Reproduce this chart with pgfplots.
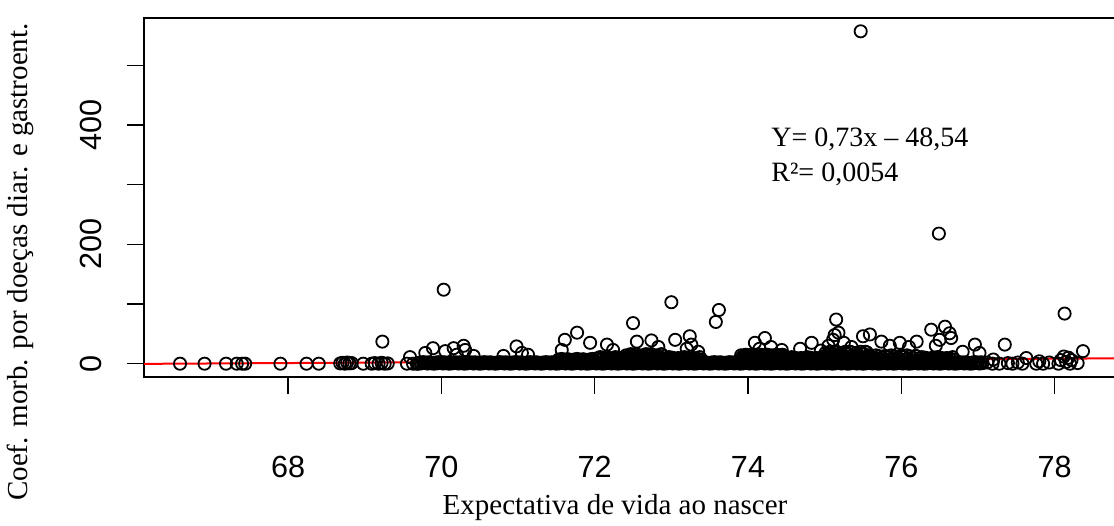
\documentclass[border=0pt]{standalone}
\usepackage{fontspec}
\setmainfont{Liberation Serif}
\newfontfamily\arialfont{Liberation Sans}
\usepackage{pgfplots}
\usepackage{pgfplotstable}
\pgfplotsset{compat=1.18}
\pgfplotstableread[row sep=\\]{
x y\\
69.70 0\\69.72 1.8\\69.74 0.6\\69.76 2.6\\69.78 1.2\\
69.80 2\\69.82 0.3\\69.84 2.4\\69.86 0.9\\69.88 1.5\\
69.90 0\\69.92 1.8\\69.94 0.6\\69.96 2.6\\69.98 1.2\\
70.00 2\\70.02 0.3\\70.04 2.4\\70.06 0.9\\70.08 1.5\\
70.10 0\\70.12 1.8\\70.14 0.6\\70.16 2.6\\70.18 1.2\\
70.20 2\\70.22 0.3\\70.24 2.4\\70.26 0.9\\70.28 1.5\\
70.30 0\\70.32 1.8\\70.34 0.6\\70.36 2.6\\70.38 1.2\\
70.40 2\\70.42 0.3\\70.44 2.4\\70.46 0.9\\70.48 1.5\\
70.50 0\\70.52 1.8\\70.54 0.6\\70.56 2.6\\70.58 1.2\\
70.60 2\\70.62 0.3\\70.64 2.4\\70.66 0.9\\70.68 1.5\\
70.70 0\\70.72 1.8\\70.74 0.6\\70.76 2.6\\70.78 1.2\\
70.80 2\\70.82 0.3\\70.84 2.4\\70.86 0.9\\70.88 1.5\\
70.90 0\\70.92 1.8\\70.94 0.6\\70.96 2.6\\70.98 1.2\\
71.00 2\\71.02 0.3\\71.04 2.4\\71.06 0.9\\71.08 1.5\\
71.10 0\\71.12 1.8\\71.14 0.6\\71.16 2.6\\71.18 1.2\\
71.20 2\\71.22 0.3\\71.24 2.4\\71.26 0.9\\71.28 1.5\\
71.30 0\\71.32 1.8\\71.34 0.6\\71.36 2.6\\71.38 1.2\\
71.40 2\\71.42 0.3\\71.44 2.4\\71.46 0.9\\71.48 1.5\\
71.50 0\\71.52 1.8\\71.54 0.6\\71.56 2.6\\71.58 1.2\\
71.60 2\\71.62 0.3\\71.64 2.4\\71.66 0.9\\71.68 1.5\\
71.70 0\\71.72 1.8\\71.74 0.6\\71.76 2.6\\71.78 1.2\\
71.80 2\\71.82 0.3\\71.84 2.4\\71.86 0.9\\71.88 1.5\\
71.90 0\\71.92 1.8\\71.94 0.6\\71.96 2.6\\71.98 1.2\\
72.00 2\\72.02 0.3\\72.04 2.4\\72.06 0.9\\72.08 1.5\\
72.10 0\\72.12 1.8\\72.14 0.6\\72.16 2.6\\72.18 1.2\\
72.20 2\\72.22 0.3\\72.24 2.4\\72.26 0.9\\72.28 1.5\\
72.30 0\\72.32 1.8\\72.34 0.6\\72.36 2.6\\72.38 1.2\\
72.40 2\\72.42 0.3\\72.44 2.4\\72.46 0.9\\72.48 1.5\\
72.50 0\\72.52 1.8\\72.54 0.6\\72.56 2.6\\72.58 1.2\\
72.60 2\\72.62 0.3\\72.64 2.4\\72.66 0.9\\72.68 1.5\\
72.70 0\\72.72 1.8\\72.74 0.6\\72.76 2.6\\72.78 1.2\\
72.80 2\\72.82 0.3\\72.84 2.4\\72.86 0.9\\72.88 1.5\\
72.90 0\\72.92 1.8\\72.94 0.6\\72.96 2.6\\72.98 1.2\\
73.00 2\\73.02 0.3\\73.04 2.4\\73.06 0.9\\73.08 1.5\\
73.10 0\\73.12 1.8\\73.14 0.6\\73.16 2.6\\73.18 1.2\\
73.20 2\\73.22 0.3\\73.24 2.4\\73.26 0.9\\73.28 1.5\\
73.30 0\\73.32 1.8\\73.34 0.6\\73.36 2.6\\73.38 1.2\\
73.40 2\\73.42 0.3\\73.44 2.4\\73.46 0.9\\73.48 1.5\\
73.50 0\\73.52 1.8\\73.54 0.6\\73.56 2.6\\73.58 1.2\\
73.60 2\\73.62 0.3\\73.64 2.4\\73.66 0.9\\73.68 1.5\\
73.70 0\\73.72 1.8\\73.74 0.6\\73.76 2.6\\73.78 1.2\\
73.80 2\\73.82 0.3\\73.84 2.4\\73.86 0.9\\73.88 1.5\\
73.90 0\\73.92 1.8\\73.94 0.6\\73.96 2.6\\73.98 1.2\\
74.00 2\\74.02 0.3\\74.04 2.4\\74.06 0.9\\74.08 1.5\\
74.10 0\\74.12 1.8\\74.14 0.6\\74.16 2.6\\74.18 1.2\\
74.20 2\\74.22 0.3\\74.24 2.4\\74.26 0.9\\74.28 1.5\\
74.30 0\\74.32 1.8\\74.34 0.6\\74.36 2.6\\74.38 1.2\\
74.40 2\\74.42 0.3\\74.44 2.4\\74.46 0.9\\74.48 1.5\\
74.50 0\\74.52 1.8\\74.54 0.6\\74.56 2.6\\74.58 1.2\\
74.60 2\\74.62 0.3\\74.64 2.4\\74.66 0.9\\74.68 1.5\\
74.70 0\\74.72 1.8\\74.74 0.6\\74.76 2.6\\74.78 1.2\\
74.80 2\\74.82 0.3\\74.84 2.4\\74.86 0.9\\74.88 1.5\\
74.90 0\\74.92 1.8\\74.94 0.6\\74.96 2.6\\74.98 1.2\\
75.00 2\\75.02 0.3\\75.04 2.4\\75.06 0.9\\75.08 1.5\\
75.10 0\\75.12 1.8\\75.14 0.6\\75.16 2.6\\75.18 1.2\\
75.20 2\\75.22 0.3\\75.24 2.4\\75.26 0.9\\75.28 1.5\\
75.30 0\\75.32 1.8\\75.34 0.6\\75.36 2.6\\75.38 1.2\\
75.40 2\\75.42 0.3\\75.44 2.4\\75.46 0.9\\75.48 1.5\\
75.50 0\\75.52 1.8\\75.54 0.6\\75.56 2.6\\75.58 1.2\\
75.60 2\\75.62 0.3\\75.64 2.4\\75.66 0.9\\75.68 1.5\\
75.70 0\\75.72 1.8\\75.74 0.6\\75.76 2.6\\75.78 1.2\\
75.80 2\\75.82 0.3\\75.84 2.4\\75.86 0.9\\75.88 1.5\\
75.90 0\\75.92 1.8\\75.94 0.6\\75.96 2.6\\75.98 1.2\\
76.00 2\\76.02 0.3\\76.04 2.4\\76.06 0.9\\76.08 1.5\\
76.10 0\\76.12 1.8\\76.14 0.6\\76.16 2.6\\76.18 1.2\\
76.20 2\\76.22 0.3\\76.24 2.4\\76.26 0.9\\76.28 1.5\\
76.30 0\\76.32 1.8\\76.34 0.6\\76.36 2.6\\76.38 1.2\\
76.40 2\\76.42 0.3\\76.44 2.4\\76.46 0.9\\76.48 1.5\\
76.50 0\\76.52 1.8\\76.54 0.6\\76.56 2.6\\76.58 1.2\\
76.60 2\\76.62 0.3\\76.64 2.4\\76.66 0.9\\76.68 1.5\\
76.70 0\\76.72 1.8\\76.74 0.6\\76.76 2.6\\76.78 1.2\\
76.80 2\\76.82 0.3\\76.84 2.4\\76.86 0.9\\76.88 1.5\\
76.90 0\\76.92 1.8\\76.94 0.6\\76.96 2.6\\76.98 1.2\\
77.00 2\\77.02 0.3\\77.04 2.4\\77.06 0.9\\
}\band
\pgfplotstableread[row sep=\\]{
x y\\
71.51 4\\71.53 7\\71.55 5.5\\71.57 8\\71.59 4.5\\
71.61 6.5\\71.63 3.5\\71.65 7.5\\71.67 5\\71.69 6\\
71.71 4\\71.73 7\\71.75 5.5\\71.77 8\\71.79 4.5\\
71.81 6.5\\71.83 3.5\\71.85 7.5\\71.87 5\\71.89 6\\
71.91 4\\71.93 7\\71.95 5.5\\71.97 8\\71.99 4.5\\
72.01 4\\72.03 9\\72.05 6\\72.07 11\\72.09 7\\
72.11 10\\72.13 5\\72.15 8\\72.17 3.5\\72.19 9.5\\
72.21 4\\72.23 9\\72.25 6\\72.27 11\\72.29 7\\
72.31 10\\72.33 5\\72.35 8\\72.37 3.5\\72.39 9.5\\
72.41 4\\72.43 12\\72.45 8\\72.47 16\\72.49 6\\72.41 14\\72.43 10\\72.45 5\\72.47 15\\72.49 9\\
72.51 13\\72.53 7\\72.55 15\\72.57 11\\72.59 4.5\\72.51 8.5\\72.53 16\\72.55 6.5\\72.57 12.5\\72.59 10.5\\
72.61 4\\72.63 12\\72.65 8\\72.67 16\\72.69 6\\72.61 14\\72.63 10\\72.65 5\\72.67 15\\72.69 9\\
72.71 13\\72.73 7\\72.75 15\\72.77 11\\72.79 4.5\\72.71 8.5\\72.73 16\\72.75 6.5\\72.77 12.5\\72.79 10.5\\
72.81 4\\72.83 12\\72.85 8\\72.87 16\\72.89 6\\72.81 14\\72.83 10\\72.85 5\\72.87 15\\72.89 9\\
72.91 4\\72.93 9\\72.95 6\\72.97 11\\72.99 7\\
73.01 10\\73.03 5\\73.05 8\\73.07 3.5\\73.09 9.5\\
73.11 4\\73.13 9\\73.15 6\\73.17 11\\73.19 7\\
73.21 10\\73.23 5\\73.25 8\\73.27 3.5\\73.29 9.5\\
73.31 4\\73.33 9\\73.35 6\\73.37 11\\73.39 7\\
73.91 4\\73.93 12\\73.95 8\\73.97 15\\73.99 6\\73.91 14\\73.93 10\\73.95 5\\73.97 13\\73.99 9\\
74.01 13\\74.03 7\\74.05 15\\74.07 11\\74.09 4.5\\74.01 8.5\\74.03 14\\74.05 6.5\\74.07 12.5\\74.09 10.5\\
74.11 4\\74.13 12\\74.15 8\\74.17 15\\74.19 6\\74.11 14\\74.13 10\\74.15 5\\74.17 13\\74.19 9\\
74.21 13\\74.23 7\\74.25 15\\74.27 11\\74.29 4.5\\74.21 8.5\\74.23 14\\74.25 6.5\\74.27 12.5\\74.29 10.5\\
74.31 4\\74.33 12\\74.35 8\\74.37 15\\74.39 6\\74.31 14\\74.33 10\\74.35 5\\74.37 13\\74.39 9\\
74.41 13\\74.43 7\\74.45 15\\74.47 11\\74.49 4.5\\74.41 8.5\\74.43 14\\74.45 6.5\\74.47 12.5\\74.49 10.5\\
74.51 4\\74.53 9\\74.55 6\\74.57 11\\74.59 7\\
74.61 10\\74.63 5\\74.65 8\\74.67 3.5\\74.69 9.5\\
74.71 4\\74.73 9\\74.75 6\\74.77 11\\74.79 7\\
74.81 10\\74.83 5\\74.85 8\\74.87 3.5\\74.89 9.5\\
74.91 4\\74.93 9\\74.95 6\\74.97 11\\74.99 7\\
75.01 4\\75.03 15\\75.05 9\\75.07 20\\75.09 6\\75.01 18\\75.03 12\\75.05 5\\75.07 17\\75.09 10\\
75.11 16\\75.13 7\\75.15 19\\75.17 13\\75.19 4.5\\75.11 9.5\\75.13 20\\75.15 6.5\\75.17 14\\75.19 11.5\\
75.21 4\\75.23 15\\75.25 9\\75.27 20\\75.29 6\\75.21 18\\75.23 12\\75.25 5\\75.27 17\\75.29 10\\
75.31 16\\75.33 7\\75.35 19\\75.37 13\\75.39 4.5\\75.31 9.5\\75.33 20\\75.35 6.5\\75.37 14\\75.39 11.5\\
75.41 4\\75.43 15\\75.45 9\\75.47 20\\75.49 6\\75.41 18\\75.43 12\\75.45 5\\75.47 17\\75.49 10\\
75.51 16\\75.53 7\\75.55 19\\75.57 13\\75.59 4.5\\75.51 9.5\\75.53 20\\75.55 6.5\\75.57 14\\75.59 11.5\\
75.61 4\\75.63 11\\75.65 7\\75.67 14\\75.69 9\\
75.71 12.5\\75.73 5\\75.75 10\\75.77 3.5\\75.79 13\\
75.81 4\\75.83 11\\75.85 7\\75.87 14\\75.89 9\\
75.91 12.5\\75.93 5\\75.95 10\\75.97 3.5\\75.99 13\\
76.01 4\\76.03 11\\76.05 7\\76.07 14\\76.09 9\\
76.11 12.5\\76.13 5\\76.15 10\\76.17 3.5\\76.19 13\\
76.21 4\\76.23 9\\76.25 6\\76.27 11\\76.29 7\\
76.31 10\\76.33 5\\76.35 8\\76.37 3.5\\76.39 9.5\\
76.41 4\\76.43 9\\76.45 6\\76.47 11\\76.49 7\\
76.51 10\\76.53 5\\76.55 8\\76.57 3.5\\76.59 9.5\\
76.61 4\\76.63 9\\76.65 6\\76.67 11\\76.69 7\\
}\upper
\pgfplotstableread[row sep=\\]{
x y\\
66.59 0\\66.91 0\\67.19 0\\67.33 0\\67.40 0\\67.44 0\\67.90 0\\68.24 0\\68.40 0\\
68.68 0.5\\68.71 1.5\\68.74 0\\68.77 2\\68.80 0.5\\68.83 1\\68.98 0\\69.09 0\\69.13 1\\
69.18 0\\69.22 1.5\\69.26 0\\69.30 0.5\\69.55 0\\69.63 0\\69.68 0\\
69.23 37\\69.59 11\\69.79 18\\69.89 26\\70.03 124\\70.05 21\\70.16 26\\70.29 30\\
70.31 23\\70.42 13\\70.20 15\\70.81 13\\70.98 29\\71.05 18\\71.13 15\\71.57 23\\
71.61 40\\71.77 52\\71.94 35\\72.16 32\\72.24 23\\72.50 68\\72.55 37\\72.74 39\\
72.83 28\\73.00 103\\73.05 40\\73.24 46\\73.26 32\\73.20 25\\73.58 70\\73.62 90\\
73.35 20\\74.09 35\\74.22 43\\74.15 25\\74.44 23\\74.30 28\\74.68 25\\74.83 35\\
74.95 22\\75.11 40\\75.15 74\\75.13 48\\75.18 52\\75.05 30\\75.25 35\\75.35 28\\
75.50 46\\75.47 557\\75.59 49\\75.74 37\\75.85 30\\75.98 35\\76.10 28\\76.20 37\\
76.39 57\\76.57 62\\76.63 51\\76.65 43\\76.50 40\\76.49 218\\76.45 30\\76.96 32\\
76.80 20\\77.02 18\\77.35 32\\
77.12 2\\77.19 0\\77.20 7\\77.28 0\\77.39 1\\77.45 0\\77.52 2\\77.58 0\\77.63 9.5\\
77.76 0\\77.80 4\\77.85 0\\77.93 2\\78.05 0\\78.08 6\\78.12 12\\78.15 3\\78.18 10\\
78.20 0\\78.22 6\\78.13 84\\78.30 1\\78.37 21\\
}\outl
\begin{document}
\begin{tikzpicture}
\useasboundingbox (0,0) rectangle (557pt,262.5pt);
\begin{axis}[
  at={(72pt,74pt)}, anchor=south west,
  scale only axis, width=487.5pt, height=179.5pt,
  xmin=66.12, xmax=78.84, ymin=-22.3, ymax=579.3,
  axis line style={line width=0.75pt, black},
  tick style={line width=0.75pt, black},
  tick align=outside, major tick length=8.5pt,
  xtick={68,70,...,78}, ytick={0,100,...,500},
  yticklabels={0,,200,,400,},
  xtick pos=bottom, ytick pos=left,
  ticklabel style={font=\arialfont\fontsize{15.3}{18}\selectfont},
  /pgf/number format/assume math mode=true,
  xticklabel style={anchor=north, inner sep=0pt},
  xticklabel shift=31pt,
  yticklabel style={rotate=90, anchor=south, inner sep=0pt},
  yticklabel shift=12.5pt,
  clip=false,
]
\addplot[only marks, mark=o, mark size=3.05pt, black, mark options={line width=0.9pt}] table[x=x,y=y] {\band};
\addplot[only marks, mark=o, mark size=3.05pt, black, mark options={line width=0.9pt}] table[x=x,y=y] {\upper};
\addplot[only marks, mark=o, mark size=3.05pt, black, mark options={line width=0.9pt}] table[x=x,y=y] {\outl};
\addplot[red, line width=1pt] coordinates {(66.12,-0.27) (78.84,9.01)};
\end{axis}
\node[font=\fontsize{14.5}{17}\selectfont] at (307.5pt,8.5pt) {Expectativa de vida ao nascer};
\node[font=\fontsize{14.5}{17}\selectfont, rotate=90] at (10pt,131.5pt) {Coef. morb. por doeças diar. e gastroent.};
\node[font=\fontsize{14}{17}\selectfont, anchor=base west, inner sep=0pt] at (385.5pt,189.2pt) {Y= 0,73x – 48,54};
\node[font=\fontsize{14}{17}\selectfont, anchor=base west, inner sep=0pt] at (385.5pt,171.7pt) {R²= 0,0054};
\end{tikzpicture}
\end{document}
